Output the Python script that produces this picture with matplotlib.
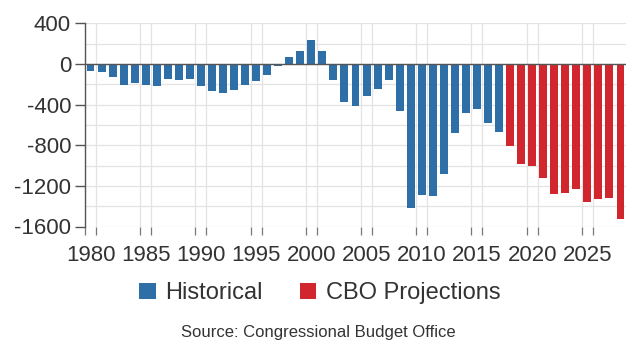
import matplotlib
matplotlib.use("Agg")
import matplotlib.pyplot as plt
from matplotlib.patches import Patch
import numpy as np

plt.rcParams['font.family'] = ['Liberation Sans', 'DejaVu Sans']

hist_years = list(range(1980, 2018))
hist_values = [-74, -79, -128, -208, -185, -212, -221, -150, -155, -153,
               -221, -269, -290, -255, -203, -164, -107, -22, 69, 126,
               236, 128, -158, -378, -413, -318, -248, -161, -459, -1413,
               -1294, -1300, -1087, -680, -485, -442, -585, -665]
proj_years = list(range(2018, 2029))
proj_values = [-804, -981, -1008, -1123, -1276, -1273, -1233, -1358, -1326, -1320, -1526]
x_tick_labels = ['1980', '1985', '1990', '1995', '2000', '2005', '2010', '2015', '2020', '2025']
y_ticks = [400, 0, -400, -800, -1200, -1600]
legend_labels = ['Historical', 'CBO Projections']
source_text = 'Source: Congressional Budget Office'

blue = '#2f6fa7'
red = '#d1262d'
text_color = '#333333'
grid_color = '#e3e3e3'

fig = plt.figure(figsize=(6.32, 3.43), dpi=100)
ax = fig.add_axes([85/632, 1-226.5/343, (626-85)/632, (226.5-23.3)/343])

ax.bar(hist_years, hist_values, width=0.72, color=blue, zorder=3)
ax.bar(proj_years, proj_values, width=0.72, color=red, zorder=3)

ax.set_xlim(1979.5, 2028.5)
ax.set_ylim(-1600, 400)

# y axis
ax.set_yticks(y_ticks)
ax.set_yticklabels([str(v) for v in y_ticks], fontsize=16, color=text_color)
ax.set_yticks(np.arange(-1600, 401, 200), minor=True)
ax.tick_params(axis='y', which='major', length=7, width=1, color='#555555', pad=3, direction='out')
ax.tick_params(axis='y', which='minor', length=0)
ax.grid(axis='y', which='both', color=grid_color, linewidth=0.9, zorder=0)

# x axis
label_years = [int(s) for s in x_tick_labels]
ax.set_xticks(label_years)
ax.set_xticklabels(x_tick_labels, fontsize=16, color=text_color)
minor_x = sorted([y - 0.5 for y in label_years] + [y + 0.5 for y in label_years])
ax.set_xticks(minor_x, minor=True)
ax.tick_params(axis='x', which='major', length=0, pad=13)
ax.tick_params(axis='x', which='minor', length=6, width=0.9, color='#777777', direction='out')
ax.grid(axis='x', which='minor', color=grid_color, linewidth=0.9, zorder=0)

ax.axhline(0, color='#555555', linewidth=1.0, zorder=4)

for s in ['top', 'right', 'bottom']:
    ax.spines[s].set_visible(False)
ax.spines['left'].set_color('#555555')
ax.spines['left'].set_linewidth(1.0)
ax.spines['left'].set_bounds(-1600, 400)

handles = [Patch(facecolor=blue, edgecolor='none'), Patch(facecolor=red, edgecolor='none')]
fig.legend(handles, legend_labels, loc='center', bbox_to_anchor=(0.506, 1-293/343), ncol=2,
           frameon=False, fontsize=17, handlelength=0.68, handleheight=0.68,
           handletextpad=0.42, columnspacing=1.55, labelcolor=text_color)

fig.text(0.503, 1-332/343, source_text, ha='center', va='center', fontsize=12, color=text_color)

fig.savefig('out.png', dpi=100)
